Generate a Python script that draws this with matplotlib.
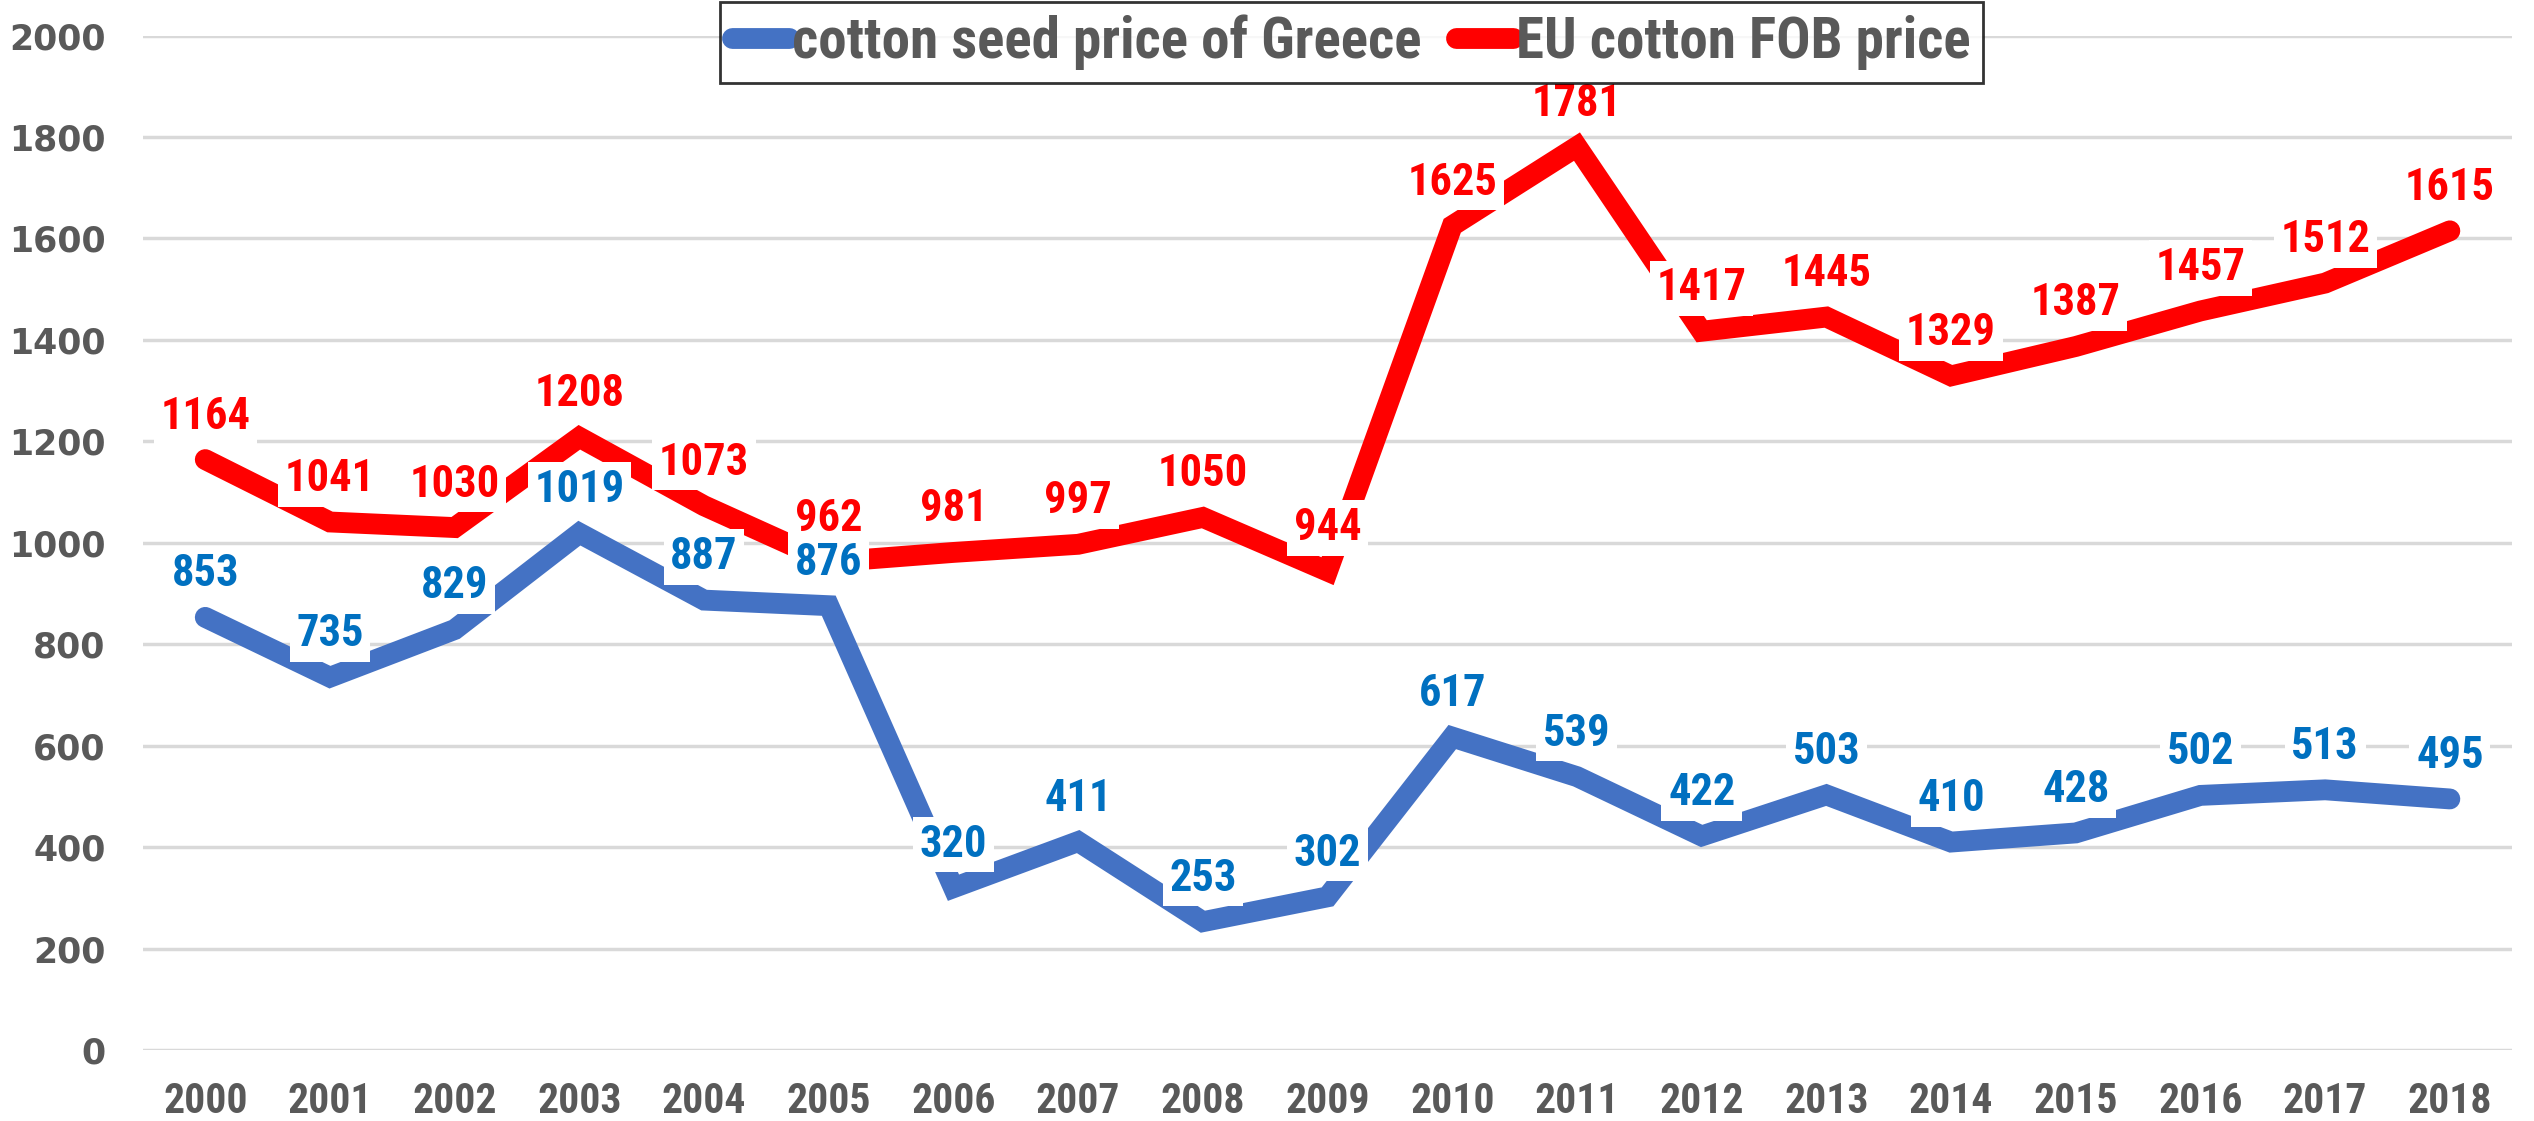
import matplotlib.pyplot as plt
from matplotlib import font_manager

years = [str(y) for y in range(2000, 2019)]
greece_seed = [853, 735, 829, 1019, 887, 876, 320, 411, 253, 302,
               617, 539, 422, 503, 410, 428, 502, 513, 495]
eu_fob = [1164, 1041, 1030, 1208, 1073, 962, 981, 997, 1050, 944,
          1625, 1781, 1417, 1445, 1329, 1387, 1457, 1512, 1615]

# pick a condensed font, Calibri-like labels in the original
names = {f.name for f in font_manager.fontManager.ttflist}
narrow = 'DejaVu Sans'
for cand in ['Roboto Condensed', 'Archivo Narrow', 'Asap Condensed', 'Carlito']:
    if cand in names:
        narrow = cand
        break

fig = plt.figure(figsize=(25.34, 11.21), dpi=100)
ax = fig.add_axes([0.0564, 0.0633, 0.935, 0.905])

x = range(len(years))
ax.plot(x, greece_seed, color='#4472C4', lw=15, solid_capstyle='round',
        solid_joinstyle='miter', label='cotton seed price of Greece', zorder=3)
ax.plot(x, eu_fob, color='#FF0000', lw=15, solid_capstyle='round',
        solid_joinstyle='miter', label='EU cotton FOB price', zorder=3)

# data labels, white box over the lines
for vals, col in [(eu_fob, '#FF0000'), (greece_seed, '#0070C0')]:
    for i, v in enumerate(vals):
        ax.annotate(str(v), (i, v), xytext=(0, 31), textcoords='offset points',
                    ha='center', va='center', fontsize=32, fontweight='bold',
                    family=narrow, color=col, zorder=5,
                    bbox=dict(boxstyle='square,pad=0.15', fc='white', ec='none'))

ax.set_xlim(-0.5, len(years) - 0.5)
ax.set_ylim(0, 2000)
ax.set_yticks(range(0, 2001, 200))
ax.set_xticks(list(x))
ax.set_xticklabels(years, family=narrow, fontsize=30, fontweight='bold', color='#595959')
for t in ax.get_yticklabels():
    t.set_fontsize(25)
    t.set_fontweight('bold')
    t.set_color('#595959')
ax.tick_params(length=0)
ax.tick_params(axis='x', pad=22)
ax.tick_params(axis='y', pad=27)
ax.grid(axis='y', color='#D9D9D9', lw=2.5)
ax.set_axisbelow(True)
for s in ax.spines.values():
    s.set_visible(False)

leg = ax.legend(loc='upper center', bbox_to_anchor=(0.510, 1.033), ncol=2,
                prop={'family': narrow, 'size': 41, 'weight': 'bold'},
                frameon=True, fancybox=False, edgecolor='black',
                handlelength=1.0, handletextpad=0.05, columnspacing=0.6,
                borderpad=0.22, borderaxespad=0)
leg.get_frame().set_linewidth(2)
leg.set_zorder(10)
for t in leg.get_texts():
    t.set_color('#595959')

fig.savefig('out.png', dpi=100, facecolor='white')
